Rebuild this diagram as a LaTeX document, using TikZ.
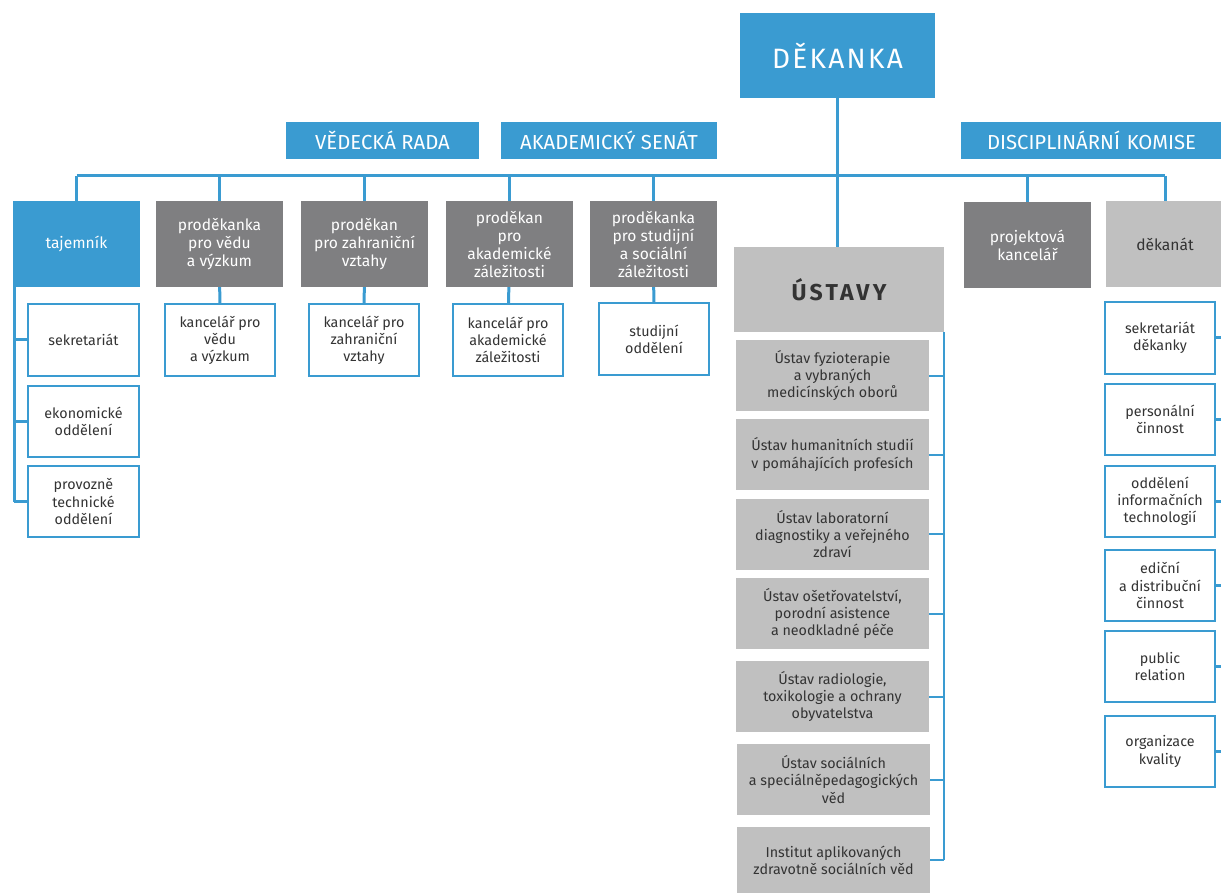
\documentclass[tikz,border=0pt]{standalone}
\usepackage{fontspec}
\setmainfont{Fira Sans}
\definecolor{fblue}{HTML}{3A9BD1}
\definecolor{dgrey}{HTML}{7F7F81}
\definecolor{lgrey}{HTML}{C0C0C0}
\definecolor{ink}{HTML}{333333}
\begin{document}
\begin{tikzpicture}[x=1pt,y=-1pt,
    every node/.style={align=center,inner sep=2pt,font=\fontsize{14.3}{17.2}\selectfont},
    link/.style={fblue,line width=3pt},
    headbox/.style={fill=fblue,text=white,minimum height=37,font=\fontsize{20.3}{22}\selectfont},
    bluebox/.style={fill=fblue,text=white,minimum width=127,minimum height=86,font=\fontsize{15.6}{18}\selectfont},
    darkbox/.style={fill=dgrey,text=white,minimum width=127,minimum height=86,font=\fontsize{15.6}{18}\selectfont},
    lightbox/.style={fill=lgrey,text=ink,minimum width=127,minimum height=86,font=\fontsize{15.6}{18}\selectfont},
    unitbox/.style={draw=fblue,line width=2pt,fill=white,text=ink,minimum width=110,minimum height=71},
    ustavbox/.style={fill=lgrey,text=ink,minimum width=193,minimum height=71}]
\useasboundingbox (0,0) rectangle (1221,893);
% top
\node[fill=fblue,text=white,minimum width=195,minimum height=85,
  font=\fontsize{28}{32}\selectfont\addfontfeature{LetterSpace=8}] (dekanka) at (837.5,55.5) {DĚKANKA};
\node[headbox,minimum width=193] (vr) at (382.5,140.5) {VĚDECKÁ RADA};
\node[headbox,minimum width=216] (as) at (609,140.5) {AKADEMICKÝ SENÁT};
\node[headbox,minimum width=262,text width=250,align=left] (dk) at (1092,140.5) {\hspace*{20pt}DISCIPLINÁRNÍ KOMISE};
\coordinate (bus) at (0,176);
% second row
\node[bluebox] (taj) at (76.5,244) {tajemník};
\node[darkbox] (pvv) at (219.5,244) {proděkanka\\pro vědu\\a výzkum};
\node[darkbox] (pzv) at (364.5,244) {proděkan\\pro zahraniční\\vztahy};
\node[darkbox] (paz) at (509.5,244) {proděkan\\pro\\akademické\\záležitosti};
\node[darkbox] (psz) at (653.5,244) {proděkanka\\pro studijní\\a sociální\\záležitosti};
\node[lightbox,minimum width=210,minimum height=85,
  font=\fontsize{23}{26}\selectfont\bfseries\addfontfeature{LetterSpace=14}] (ustavy) at (839,289.5) {ÚSTAVY};
\node[darkbox] (pk) at (1027.5,245) {projektová\\kancelář};
\node[lightbox,minimum width=118] (dekanat) at (1165,244.5) {děkanát};
% bus
\draw[link] (taj.north |- bus) -- (dekanat.north |- bus);
\foreach \n in {taj,pvv,pzv,paz,psz,pk,dekanat}
  \draw[link] (\n.north |- bus) -- (\n.north);
\draw[link] (dekanka.south) -- (dekanka.south |- ustavy.north);
% tajemnik
\node[unitbox,minimum width=111] (t1) at (83.5,340) {sekretariát};
\node[unitbox,minimum width=111] (t2) at (83.5,421) {ekonomické\\oddělení};
\node[unitbox,minimum width=111] (t3) at (83.5,501.5) {provozně\\technické\\oddělení};
\draw[link] ([xshift=1.5pt]taj.south west) -- ([xshift=1.5pt]taj.south west |- t3);
\foreach \n in {t1,t2,t3}
  \draw[link] ([xshift=1.5pt]taj.south west |- \n) -- (\n.west);
% kancelare
\node[unitbox] (k1) at (220,340) {kancelář pro\\vědu\\a výzkum};
\node[unitbox] (k2) at (364,340) {kancelář pro\\zahraniční\\vztahy};
\node[unitbox] (k3) at (508,340) {kancelář pro\\akademické\\záležitosti};
\node[unitbox] (k4) at (654,339) {studijní\\oddělení};
\draw[link] (pvv) -- (k1);
\draw[link] (pzv) -- (k2);
\draw[link] (paz) -- (k3);
\draw[link] (psz) -- (k4);
% ustavy
\node[ustavbox] (u1) at (832.5,375.5) {Ústav fyzioterapie\\a vybraných\\medicínských oborů};
\node[ustavbox] (u2) at (832.5,454.5) {Ústav humanitních studií\\v pomáhajících profesích};
\node[ustavbox] (u3) at (832.5,534) {Ústav laboratorní\\diagnostiky a veřejného\\zdraví};
\node[ustavbox] (u4) at (832.5,613.5) {Ústav ošetřovatelství,\\porodní asistence\\a neodkladné péče};
\node[ustavbox] (u5) at (832.5,696.5) {Ústav radiologie,\\toxikologie a ochrany\\obyvatelstva};
\node[ustavbox] (u6) at (833.5,779.5) {Ústav sociálních\\a speciálněpedagogických\\věd};
\node[ustavbox,minimum height=66] (u7) at (833.5,860) {Institut aplikovaných\\zdravotně sociálních věd};
\draw[link,line width=2pt] (ustavy.south east) -- (ustavy.south east |- u7);
\foreach \n in {u1,u2,u3,u4,u5,u6,u7}
  \draw[link,line width=2pt] (\n.east) -- (ustavy.south east |- \n);
% dekanat
\coordinate (rbus) at (1226,0);
\node[unitbox] (d1) at (1160,338) {sekretariát\\děkanky};
\node[unitbox] (d2) at (1160,419.5) {personální\\činnost};
\node[unitbox] (d3) at (1160,501) {oddělení\\informačních\\technologií};
\node[unitbox] (d4) at (1160,585.5) {ediční\\a distribuční\\činnost};
\node[unitbox] (d5) at (1160,666.5) {public\\relation};
\node[unitbox] (d6) at (1160,751.5) {organizace\\kvality};
\foreach \n in {d1,d2,d3,d4,d5,d6}
  \draw[link] (\n.east) -- (\n -| rbus);
\end{tikzpicture}
\end{document}
